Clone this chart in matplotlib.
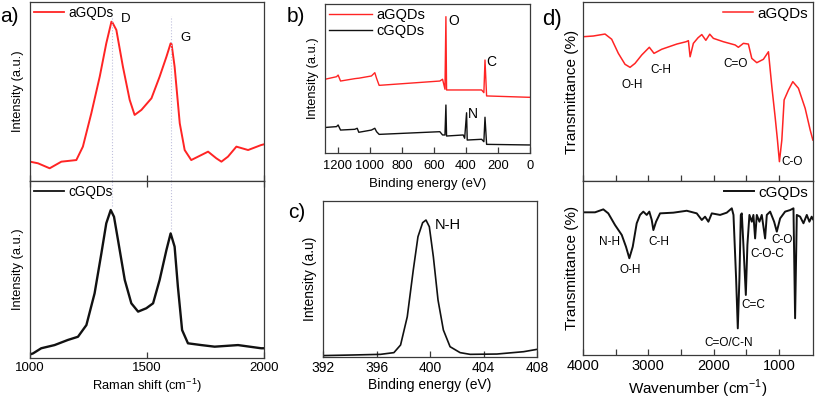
"""
Raman, XPS and FTIR spectra of aGQDs / cGQDs
Four panel figure (a-d) redrawn from digitised points
"""

import matplotlib
matplotlib.use('Agg')
import matplotlib.pyplot as plt

plt.rcParams['font.family'] = ['Liberation Sans', 'DejaVu Sans']
plt.rcParams['mathtext.fontset'] = 'custom'
plt.rcParams['mathtext.rm'] = 'Liberation Sans'

RED = '#ff2424'
BLACK = '#111111'
FRAME = '#3a3a3a'

# ---- a) Raman (intensity in arbitrary units, 0-100 of the panel) ----
raman_a_x = [1000, 1034, 1084, 1134, 1198, 1226, 1262, 1298, 1326, 1348, 1352, 1369,
             1397, 1426, 1447, 1476, 1519, 1554, 1583, 1601, 1605, 1618, 1640, 1661,
             1689, 1732, 1761, 1796, 1818, 1846, 1882, 1932, 1988, 2000]
raman_a_y = [10.8, 9.9, 7.1, 10.8, 11.7, 19.2, 37.8, 58.3, 76.9, 89.0, 88.6, 84.4,
             63.9, 45.3, 36.9, 39.7, 46.2, 58.3, 69.4, 76.9, 76.5, 63.9, 32.2, 17.3,
             11.7, 14.5, 16.4, 12.7, 10.8, 13.6, 19.2, 17.3, 20.1, 20.5]

raman_c_x = [1000, 1013, 1048, 1105, 1162, 1205, 1241, 1276, 1305, 1326, 1345, 1359,
             1376, 1405, 1433, 1462, 1497, 1526, 1554, 1583, 1601, 1618, 1632, 1650,
             1675, 1732, 1789, 1889, 1988, 2000]
raman_c_y = [2.0, 2.6, 5.5, 7.3, 10.2, 12.0, 18.6, 36.5, 59.1, 76.1, 83.6, 79.8,
             66.7, 44.1, 30.9, 26.2, 28.1, 30.9, 44.1, 61.0, 70.4, 62.9, 40.3, 15.8,
             8.3, 7.3, 6.4, 7.3, 5.5, 5.5]

raman_peaks = [1350, 1604]
raman_peak_names = ['D', 'G']

# ---- b) XPS survey ----
xps_x = [1280, 1271, 1208, 1198, 1183, 1094, 1079, 1069, 990, 969, 958, 942,
         563, 546, 531, 525, 521, 417, 408, 396, 392, 302, 288, 281, 271, 11, 0]
xps_a_y = [49.5, 49.7, 51.2, 52.3, 48.3, 49.9, 50.1, 50.2, 51.7, 53.9, 50.1, 45.4,
           48.3, 49.5, 42.8, 91.5, 42.3, 42.3, 42.3, 42.3, 42.3, 42.3, 40.5, 62.4, 38.3, 37.4, 37.4]
xps_c_y = [17.0, 17.2, 17.7, 18.8, 15.4, 15.9, 16.6, 13.9, 15.4, 16.6, 14.3, 12.5,
           14.3, 12.1, 12.1, 32.2, 11.4, 12.1, 9.9, 27.0, 8.7, 9.2, 7.6, 24.0, 5.8, 5.4, 5.4]

# ---- c) N 1s high resolution ----
n1s_x = [392.0, 394.3, 396.3, 397.3, 397.8, 398.3, 398.75, 399.1, 399.45, 399.7,
         399.95, 400.25, 400.6, 401.0, 401.5, 402.25, 403.0, 405.0, 407.0, 408.0]
n1s_y = [0.9, 1.3, 1.7, 2.8, 7.7, 25.8, 55.8, 77.1, 86.1, 87.8,
         83.5, 64.3, 36.5, 17.3, 6.6, 2.8, 1.7, 1.9, 3.4, 4.9]

# ---- d) FTIR ----
ftir_a_x = [4000, 3842, 3663, 3561, 3459, 3357, 3280, 3204, 3101, 2985, 2913, 2795,
            2565, 2423, 2387, 2361, 2311, 2240, 2182, 2120, 2060, 2005, 1851, 1672,
            1622, 1545, 1469, 1417, 1340, 1239, 1162, 1110, 1060, 1024, 994, 957,
            922, 856, 789, 703, 600, 523, 482]
ftir_a_y = [80.6, 81.0, 82.1, 79.2, 71.3, 65.2, 63.5, 65.7, 70.4, 74.7, 71.3, 73.6,
            76.5, 77.8, 78.4, 69.4, 76.9, 80.0, 81.8, 78.6, 82.0, 79.7, 77.8, 76.0,
            74.7, 76.9, 76.5, 68.5, 66.1, 68.0, 72.2, 52.7, 35.9, 22.9, 10.8, 22.9,
            45.3, 50.8, 55.5, 51.8, 40.6, 28.5, 22.9]

ftir_c_x = [4000, 3816, 3689, 3613, 3510, 3407, 3342, 3291, 3239, 3178, 3127, 3077,
            3025, 2985, 2948, 2923, 2882, 2821, 2617, 2412, 2259, 2182, 2132, 2081,
            2029, 1902, 1800, 1723, 1697, 1657, 1631, 1606, 1585, 1570, 1545, 1508,
            1484, 1453, 1417, 1392, 1366, 1340, 1300, 1264, 1213, 1187, 1136, 1075,
            1034, 983, 907, 830, 779, 754, 728, 677, 626, 575, 535, 500, 480]
ftir_c_y = [82.0, 82.0, 83.7, 81.4, 74.7, 69.0, 62.2, 55.6, 62.2, 75.7, 80.5, 82.4,
            80.5, 82.4, 77.6, 71.8, 76.6, 81.4, 81.8, 82.9, 81.4, 77.6, 79.5, 76.6,
            81.4, 80.5, 81.8, 84.3, 80.5, 44.1, 15.3, 44.1, 80.5, 81.4, 63.2, 34.5,
            63.2, 80.5, 76.6, 80.5, 67.0, 80.5, 76.6, 80.5, 67.0, 80.5, 82.4, 76.6,
            70.9, 78.5, 82.4, 83.3, 84.3, 21.1, 80.5, 79.5, 75.7, 80.5, 76.6, 79.5, 78.0]

ftir_a_labels = [('O-H', 3254, 53.6), ('C-H', 2806, 62.0), ('C=O', 1661, 65.2), ('C-O', 805, 10.8)]
ftir_c_labels = [('N-H', 3587, 65.1), ('O-H', 3280, 48.9), ('C-H', 2847, 65.1),
                 ('C=O/C-N', 1775, 7.1), ('C=C', 1392, 28.7), ('C-O-C', 1178, 58.0),
                 ('C-O', 957, 66.1)]


def px_axes(fig, x0, y0, x1, y1):
    """axes from pixel box (left, top, right, bottom) of an 815x401 canvas"""
    W, H = 815.0, 401.0
    return fig.add_axes([x0 / W, 1 - y1 / H, (x1 - x0) / W, (y1 - y0) / H])


def style(ax, fs):
    for s in ax.spines.values():
        s.set_color(FRAME)
        s.set_linewidth(0.9)
    ax.tick_params(direction='in', length=4, width=0.9, color=FRAME,
                   labelsize=fs, pad=3, left=False, labelleft=False)
    ax.set_ylim(0, 100)


fig = plt.figure(figsize=(8.15, 4.01), dpi=100)

# ---------------- a) ----------------
ax_a1 = px_axes(fig, 30, 2, 264, 181)
ax_a2 = px_axes(fig, 30, 181, 264, 358)
for ax in (ax_a1, ax_a2):
    style(ax, 9.5)
    ax.set_xlim(1000, 2000)
    ax.set_xticks([1000, 1500, 2000])
    ax.set_ylabel('Intensity (a.u.)', fontsize=9.3, labelpad=4)
ax_a1.tick_params(labelbottom=False)
ax_a2.tick_params(top=True)

ax_a1.plot(raman_a_x, raman_a_y, color=RED, lw=1.4, label='aGQDs')
ax_a2.plot(raman_c_x, raman_c_y, color=BLACK, lw=1.7, label='cGQDs')
for pk, name, ya in zip(raman_peaks, raman_peak_names, [90.5, 80.0]):
    ax_a1.plot([pk, pk], [0, 92], color='#c0c0dc', lw=0.8, ls=':')
    ax_a1.text(pk + 60, ya, name, fontsize=9.5, ha='center', va='center')
ax_a2.plot([raman_peaks[0]] * 2, [86, 100], color='#c0c0dc', lw=0.8, ls=':')
ax_a2.plot([raman_peaks[1]] * 2, [73, 100], color='#c0c0dc', lw=0.8, ls=':')
ax_a2.set_xlabel('Raman shift (cm$^{-1}$)', fontsize=9.3, labelpad=2)
for ax in (ax_a1, ax_a2):
    leg = ax.legend(loc='upper left', frameon=False, fontsize=9.8, handlelength=2.2,
                    handletextpad=0.3, borderaxespad=0.1, borderpad=0.2)
    for h in leg.get_lines():
        h.set_linewidth(1.3)
fig.text(0.0, 1 - 17 / 401, 'a)', fontsize=15, va='center', ha='left')

# ---------------- b) ----------------
ax_b = px_axes(fig, 325, 4, 530, 153)
style(ax_b, 9.3)
ax_b.tick_params(pad=5)
ax_b.set_xlim(1280, 0)
ax_b.set_xticks([1200, 1000, 800, 600, 400, 200, 0])
ax_b.plot(xps_x, xps_a_y, color=RED, lw=1.0, label='aGQDs')
ax_b.plot(xps_x, xps_c_y, color=BLACK, lw=1.0, label='cGQDs')
ax_b.text(479, 88.8, 'O', fontsize=10, ha='center', va='center')
ax_b.text(240, 61.3, 'C', fontsize=10, ha='center', va='center')
ax_b.text(354, 26.0, 'N', fontsize=10, ha='center', va='center')
ax_b.set_ylabel('Intensity (a.u.)', fontsize=9.3, labelpad=4)
ax_b.set_xlabel('Binding energy (eV)', fontsize=9.5, labelpad=4)
ax_b.legend(loc='upper left', frameon=False, fontsize=10.5, handlelength=2.9,
            handletextpad=0.3, borderaxespad=0.2, borderpad=0.1, labelspacing=0.1)
fig.text(287 / 815, 1 - 17 / 401, 'b)', fontsize=15, va='center', ha='left')

# ---------------- c) ----------------
ax_c = px_axes(fig, 323, 201, 537, 357)
style(ax_c, 10)
ax_c.set_xlim(392, 408)
ax_c.set_xticks([392, 396, 400, 404, 408])
ax_c.plot(n1s_x, n1s_y, color=BLACK, lw=1.2)
ax_c.text(400.35, 84.6, 'N-H', fontsize=10.5, ha='left', va='center')
ax_c.set_ylabel('Intensity (a.u)', fontsize=10, labelpad=4)
ax_c.set_xlabel('Binding energy (eV)', fontsize=10, labelpad=2)
fig.text(288 / 815, 1 - 212 / 401, 'c)', fontsize=15, va='center', ha='left')

# ---------------- d) ----------------
ax_d1 = px_axes(fig, 583, 2, 813, 181)
ax_d2 = px_axes(fig, 583, 181, 813, 355)
for ax in (ax_d1, ax_d2):
    style(ax, 10.5)
    ax.set_xlim(4000, 480)
    ax.set_xticks([4000, 3500, 3000, 2500, 2000, 1500, 1000])
    ax.set_xticklabels(['4000', '', '3000', '', '2000', '', '1000'])
    ax.set_ylabel('Transmittance (%)', fontsize=11, labelpad=3)
ax_d1.tick_params(labelbottom=False)
ax_d1.plot(ftir_a_x, ftir_a_y, color=RED, lw=1.1, label='aGQDs')
ax_d2.plot(ftir_c_x, ftir_c_y, color=BLACK, lw=1.4, label='cGQDs')
for name, xv, yv in ftir_a_labels:
    ax_d1.text(xv, yv, name, fontsize=8.5, ha='center', va='center')
for name, xv, yv in ftir_c_labels:
    ax_d2.text(xv, yv, name, fontsize=8.5, ha='center', va='center')
ax_d2.set_xlabel('Wavenumber (cm$^{-1}$)', fontsize=11, labelpad=3)
for ax in (ax_d1, ax_d2):
    ax.legend(loc='upper right', frameon=False, fontsize=11, handlelength=2.0,
              handletextpad=0.3, borderaxespad=0.1, borderpad=0.2)
fig.text(542 / 815, 1 - 19 / 401, 'd)', fontsize=16, va='center', ha='left')

fig.savefig('out.png', dpi=100)
